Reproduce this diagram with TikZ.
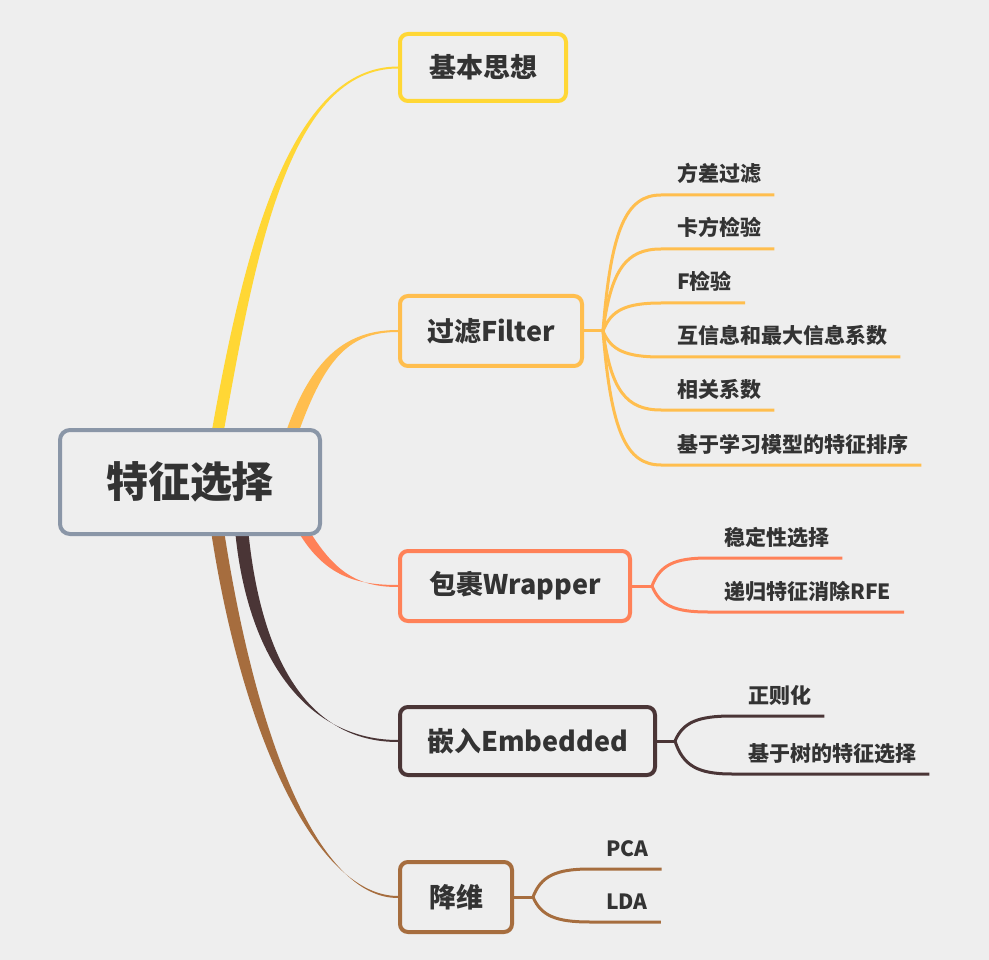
\documentclass[tikz,border=0pt]{standalone}
\usepackage{fontspec}
\setmainfont{Noto Sans CJK SC}
\usetikzlibrary{calc}
\pgfdeclarelayer{bglayer}
\pgfsetlayers{bglayer,main}
\definecolor{bgc}{HTML}{EEEEEE}
\definecolor{txtc}{HTML}{333333}
\definecolor{rootc}{HTML}{8A96A7}
\definecolor{cyel}{HTML}{FFD735}
\definecolor{cfil}{HTML}{FFBE4E}
\definecolor{cwra}{HTML}{FF8158}
\definecolor{cemb}{HTML}{4A3536}
\definecolor{cdim}{HTML}{A66D3E}
\newcommand\mmtaper[7]{\fill[#1] ($#2+#6$) .. controls ($#3+#6$) and ($#4+#7$) .. ($#5+#7$) -- ($#5-#7$) .. controls ($#4-#7$) and ($#3-#6$) .. ($#2-#6$) -- cycle;}
\newcommand\mmleaf[3]{%
  \draw[#3, leafline] (#1) let \p1=(#1), \p2=($(#2.base west)+(-16,13)$), \p3=($(#2.base east)+(13,13)$) in
    .. controls ({\x1+8pt},{\y1+0.75*(\y2-\y1)}) and ({\x1+0.4*(\x2-\x1)},\y2) .. (\p2) -- (\x3,\y2);}
\begin{document}
\begin{tikzpicture}[x=1pt,y=-1pt,
  rootbox/.style={draw=rootc, line width=4pt, rounded corners=10pt, fill=bgc, text=txtc,
    minimum width=260pt, minimum height=104pt, inner sep=0pt, font=\fontsize{42}{50}\selectfont\bfseries},
  branchbox/.style={draw=#1, line width=4pt, rounded corners=8pt, fill=bgc, text=txtc,
    inner sep=0pt, font=\fontsize{27}{32}\selectfont\bfseries},
  leaf/.style={anchor=base west, inner sep=0pt, text=txtc, font=\fontsize{21}{25}\selectfont\bfseries},
  leafline/.style={line width=3pt},
  stub/.style={line width=3pt}]
\useasboundingbox (0,0) rectangle (989,960);

% nodes
\node[rootbox] (root) at (190,482) {特征选择};
\node[branchbox=cyel, minimum width=166pt, minimum height=67pt] (b1) at (483,67.5) {基本思想};
\node[branchbox=cfil, minimum width=182pt, minimum height=70pt] (b2) at (491,331) {过滤Filter};
\node[branchbox=cwra, minimum width=230pt, minimum height=70pt] (b3) at (515,586) {包裹Wrapper};
\node[branchbox=cemb, minimum width=255pt, minimum height=68pt] (b4) at (527.5,741) {嵌入Embedded};
\node[branchbox=cdim, minimum width=112pt, minimum height=70pt] (b5) at (456,897) {降维};

% tapered main branches
\begin{pgfonlayer}{bglayer}
\fill[bgc] (0,0) rectangle (989,960);
\mmtaper{cyel}{($(root.north west)+(160,2)$)}{(250,250)}{($(b1.west)+(-108,0)$)}{(b1.west)}{(6,0)}{(0,1)}
\mmtaper{cfil}{($(root.north west)+(235,2)$)}{(320,355)}{($(b2.west)+(-48,0)$)}{(b2.west)}{(5.7,1.9)}{(0,1)}
\mmtaper{cwra}{($(root.south west)+(245,-6)$)}{(330,575)}{($(b3.west)+(-40,0)$)}{(b3.west)}{(4.4,-2.4)}{(0,1)}
\mmtaper{cemb}{($(root.south west)+(184,-2)$)}{(255,660)}{($(b4.west)+(-90,0)$)}{(b4.west)}{(6.5,-0.6)}{(0,1)}
\mmtaper{cdim}{($(root.south west)+(160,-2)$)}{(250,740)}{($(b5.west)+(-80,0)$)}{(b5.west)}{(6.4,-0.9)}{(0,1)}
\end{pgfonlayer}

% fan origins
\coordinate (f2) at ($(b2.east)+(19,0)$);
\coordinate (f3) at ($(b3.east)+(20,0)$);
\coordinate (f4) at ($(b4.east)+(18,0)$);
\coordinate (f5) at ($(b5.east)+(19,0)$);
\draw[cfil, stub] (b2.east) -- (f2);
\draw[cwra, stub] (b3.east) -- (f3);
\draw[cemb, stub] (b4.east) -- (f4);
\draw[cdim, stub] (b5.east) -- (f5);

% Filter leaves
\node[leaf] (l21) at (677,182) {方差过滤};
\node[leaf] (l22) at (677,236) {卡方检验};
\node[leaf] (l23) at (677,290) {F检验};
\node[leaf] (l24) at (677,344) {互信息和最大信息系数};
\node[leaf] (l25) at (677,397) {相关系数};
\node[leaf] (l26) at (677,452) {基于学习模型的特征排序};
\mmleaf{f2}{l21}{cfil}
\mmleaf{f2}{l22}{cfil}
\mmleaf{f2}{l23}{cfil}
\mmleaf{f2}{l24}{cfil}
\mmleaf{f2}{l25}{cfil}
\mmleaf{f2}{l26}{cfil}

% Wrapper leaves
\node[leaf] (l31) at (724,545) {稳定性选择};
\node[leaf] (l32) at (724,599) {递归特征消除RFE};
\mmleaf{f3}{l31}{cwra}
\mmleaf{f3}{l32}{cwra}

% Embedded leaves
\node[leaf] (l41) at (748,703) {正则化};
\node[leaf] (l42) at (748,761) {基于树的特征选择};
\mmleaf{f4}{l41}{cemb}
\mmleaf{f4}{l42}{cemb}

% Dimension reduction leaves
\node[leaf] (l51) at (606,856) {PCA};
\node[leaf] (l52) at (606,909) {LDA};
\mmleaf{f5}{l51}{cdim}
\mmleaf{f5}{l52}{cdim}
\end{tikzpicture}
\end{document}
